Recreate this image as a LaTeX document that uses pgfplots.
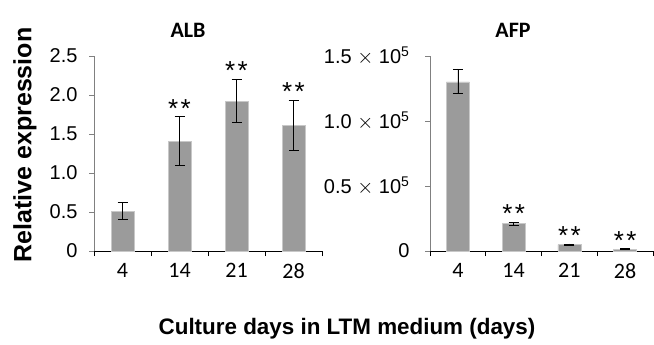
\documentclass[border=0pt]{standalone}
\usepackage{pgfplots}
\pgfplotsset{compat=1.18}
\usepackage{fontspec}
\setmainfont{Liberation Sans}
\newfontfamily\carlito{Carlito}
\definecolor{barfill}{RGB}{155,155,155}
\definecolor{baredge}{RGB}{200,200,200}
\pgfplotstableread{
x y ep em
0 0.51 0.11 0.10
1 1.41 0.31 0.31
2 1.92 0.28 0.27
3 1.61 0.32 0.32
}\albdata
\pgfplotstableread{
x y ep em
0 130000 10000 9000
1 21000 1300 1300
2 5000 400 400
3 1500 300 300
}\afpdata
\pgfplotsset{
  mybar/.style={
    scale only axis, height=195bp, ymin=0,
    xmin=-0.5, xmax=3.5,
    axis x line*=bottom, axis y line*=left,
    axis line style={-},
    x axis line style={black, line width=0.8bp},
    y axis line style={gray, line width=0.8bp},
    xtick={-0.5,0.5,1.5,2.5,3.5},
    x tick label as interval,
    xticklabels={4,14,21,28},
    tick align=outside,
    major tick length=5bp,
    x tick style={black, line width=0.8bp},
    y tick style={gray, line width=0.8bp},
    xticklabel style={font=\carlito\fontsize{22bp}{24bp}\selectfont, yshift=-4bp},
    yticklabel style={font=\fontsize{20bp}{22bp}\selectfont, xshift=-8bp},
    scaled y ticks=false,
  },
  mybars/.style={ybar, bar width=23bp, fill=barfill, draw=baredge, line width=0.5bp,
    error bars/.cd, y dir=both, y explicit,
    error bar style={black, line width=0.7bp},
    error mark options={rotate=90, mark size=5bp, black, line width=0.7bp}},
  stars/.style={only marks, mark=*, mark size=0pt, mark options={draw=none,fill=none},
    nodes near coords={*\hspace{2.5bp}*},
    every node near coord/.style={anchor=base, yshift=-0.5bp, inner sep=0pt,
      font=\fontsize{26bp}{26bp}\selectfont}},
}
\begin{document}
\begin{tikzpicture}[x=1bp,y=1bp]
\useasboundingbox (0,0) rectangle (654,344);
\begin{axis}[mybar, at={(94bp,93bp)}, anchor=south west, width=228bp,
  ymax=2.5, ytick={0,0.5,1,1.5,2,2.5}, yticklabels={0,0.5,1.0,1.5,2.0,2.5}]
\addplot[mybars] table[x=x, y=y, y error plus=ep, y error minus=em] {\albdata};
\addplot[stars] coordinates {(1,1.72) (2,2.20) (3,1.93)};
\end{axis}
\begin{axis}[mybar, at={(430bp,93bp)}, anchor=south west, width=223bp,
  ymax=150000, ytick={0,50000,100000,150000},
  yticklabels={0, {0.5 $\times$ 10\textsuperscript{5}}, {1.0 $\times$ 10\textsuperscript{5}}, {1.5 $\times$ 10\textsuperscript{5}}},
  yticklabel style={xshift=-4bp}]
\addplot[mybars] table[x=x, y=y, y error plus=ep, y error minus=em] {\afpdata};
\addplot[stars] coordinates {(1,22300) (2,5400) (3,1800)};
\end{axis}
\node[font=\carlito\bfseries\fontsize{22bp}{24bp}\selectfont] at (188,314) {ALB};
\node[font=\carlito\bfseries\fontsize{22bp}{24bp}\selectfont] at (513,314) {AFP};
\node[rotate=90, font=\bfseries\fontsize{25bp}{28bp}\selectfont] at (25,199) {Relative expression};
\node[font=\bfseries\fontsize{22.4bp}{25bp}\selectfont] at (347,15) {Culture days in LTM medium (days)};
\end{tikzpicture}
\end{document}
